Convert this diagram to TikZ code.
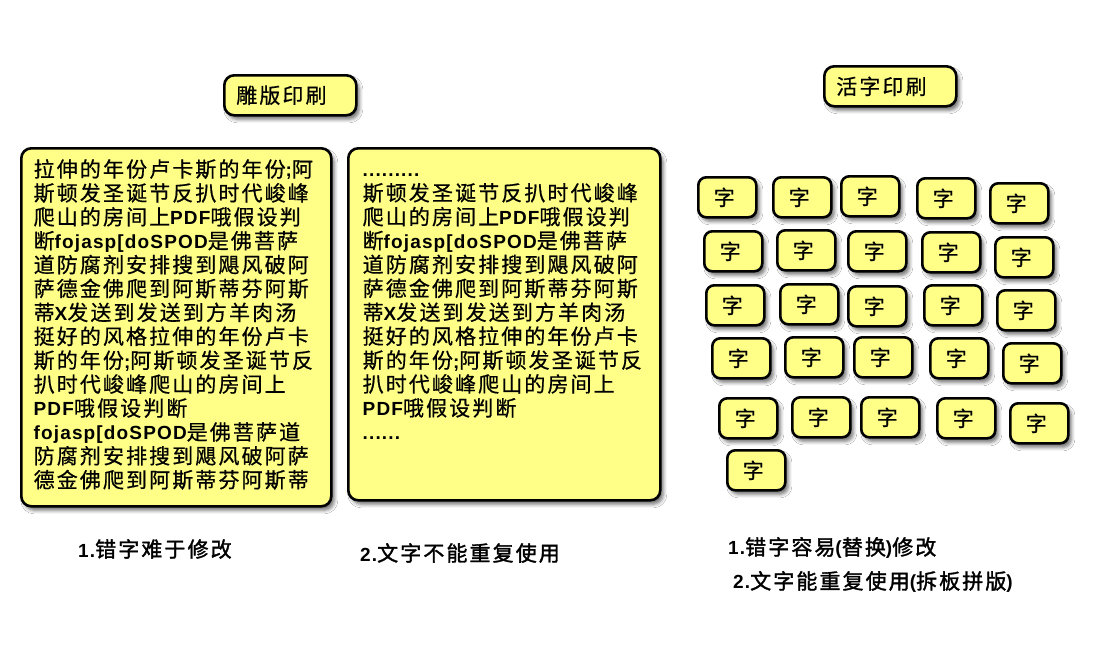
\documentclass[tikz,border=0pt]{standalone}
\usepackage{fontspec}
\setmainfont{Noto Sans CJK SC}[LetterSpace=10, FakeBold=0.6]
\newfontfamily\latfont{Liberation Sans}[Scale=0.905, LetterSpace=6]
\newfontfamily\notefont{Noto Sans CJK SC}[LetterSpace=10, FakeBold=1.6]
\newcommand{\lat}[1]{{\latfont\bfseries #1}}
\usepackage{tikz}
\usetikzlibrary{positioning, shadows.blur}
\definecolor{paper}{HTML}{FFFF88}

\tikzset{
  card/.style={draw=black, line width=2.6pt, fill=paper, rounded corners=10pt,
    blur shadow={shadow xshift=3pt, shadow yshift=-4pt, shadow blur radius=3.5pt, shadow opacity=55}},
  title/.style={card, anchor=north west, minimum width=132pt, minimum height=40pt,
    text width=108pt, inner xsep=12pt, inner ysep=0pt, font=\fontsize{21}{23}\selectfont},
  typepiece/.style={card, rounded corners=8pt, anchor=north west, minimum width=58pt,
    minimum height=40pt, text width=27pt, inner xsep=15pt, inner ysep=0pt,
    font=\fontsize{21}{23}\selectfont},
  page/.style={card, anchor=north west, inner sep=0pt},
  lines/.style={anchor=north west, align=left, inner sep=0pt, font=\fontsize{21}{23.9}\selectfont},
  note/.style={anchor=west, inner sep=0pt, font=\notefont\fontsize{21}{23}\selectfont}
}

\begin{document}
\begin{tikzpicture}[x=1pt, y=-1pt]
\fill[white] (0,0) rectangle (1106,645);
\useasboundingbox (0,0) rectangle (1106,645);

% block printing
\node[title] (blocktitle) at (223,74) {雕版印刷};
\node[page, minimum width=310pt, minimum height=358pt] (leftpage) at (20,147) {};
\node[page, minimum width=312pt, minimum height=352pt] (rightpage) at (347,147) {};
\node[lines] (lefttext) at ([xshift=13.5pt, yshift=-12pt]leftpage.north west) {%
拉伸的年份卢卡斯的年份\lat{;}阿\\
斯顿发圣诞节反扒时代峻峰\\
爬山的房间上\lat{PDF}哦假设判\\
断\lat{fojasp[doSPOD}是佛菩萨\\
道防腐剂安排搜到飓风破阿\\
萨德金佛爬到阿斯蒂芬阿斯\\
蒂\lat{X}发送到发送到方羊肉汤\\
挺好的风格拉伸的年份卢卡\\
斯的年份\lat{;}阿斯顿发圣诞节反\\
扒时代峻峰爬山的房间上\\
\lat{PDF}哦假设判断\\
\lat{fojasp[doSPOD}是佛菩萨道\\
防腐剂安排搜到飓风破阿萨\\
德金佛爬到阿斯蒂芬阿斯蒂};
\node[lines] (righttext) at ([xshift=15.5pt, yshift=-12pt]rightpage.north west) {%
\vphantom{斯}\lat{.........}\\
斯顿发圣诞节反扒时代峻峰\\
爬山的房间上\lat{PDF}哦假设判\\
断\lat{fojasp[doSPOD}是佛菩萨\\
道防腐剂安排搜到飓风破阿\\
萨德金佛爬到阿斯蒂芬阿斯\\
蒂\lat{X}发送到发送到方羊肉汤\\
挺好的风格拉伸的年份卢卡\\
斯的年份\lat{;}阿斯顿发圣诞节反\\
扒时代峻峰爬山的房间上\\
\lat{PDF}哦假设判断\\
\lat{......}};

% movable type
\node[title] (typetitle) at (823,65) {活字印刷};
\node[typepiece] (t11) at (697,176) {字};
\node[typepiece] (t12) at (772,176) {字};
\node[typepiece] (t13) at (840,175) {字};
\node[typepiece] (t14) at (916,177) {字};
\node[typepiece] (t15) at (989,182) {字};
\node[typepiece] (t21) at (703,230) {字};
\node[typepiece] (t22) at (776,229) {字};
\node[typepiece] (t23) at (847,230) {字};
\node[typepiece] (t24) at (921,231) {字};
\node[typepiece] (t25) at (994,236) {字};
\node[typepiece] (t31) at (705,284) {字};
\node[typepiece] (t32) at (779,283) {字};
\node[typepiece] (t33) at (847,285) {字};
\node[typepiece] (t34) at (923,284) {字};
\node[typepiece] (t35) at (996,289) {字};
\node[typepiece] (t41) at (711,337) {字};
\node[typepiece] (t42) at (784,336) {字};
\node[typepiece] (t43) at (853,336) {字};
\node[typepiece] (t44) at (929,337) {字};
\node[typepiece] (t45) at (1002,342) {字};
\node[typepiece] (t51) at (718,397) {字};
\node[typepiece] (t52) at (791,396) {字};
\node[typepiece] (t53) at (860,396) {字};
\node[typepiece] (t54) at (936,397) {字};
\node[typepiece] (t55) at (1009,402) {字};
\node[typepiece] (t61) at (726,449) {字};

% notes
\node[note] (blocknote1) at (78,549) {\lat{1.}错字难于修改};
\node[note] (blocknote2) at (360,553) {\lat{2.}文字不能重复使用};
\node[note] (typenote1) at (728,548) {\lat{1.}错字容易\lat{(}替换\lat{)}修改};
\node[note] (typenote2) at (733,582) {\lat{2.}文字能重复使用\lat{(}拆板拼版\lat{)}};
\end{tikzpicture}
\end{document}
